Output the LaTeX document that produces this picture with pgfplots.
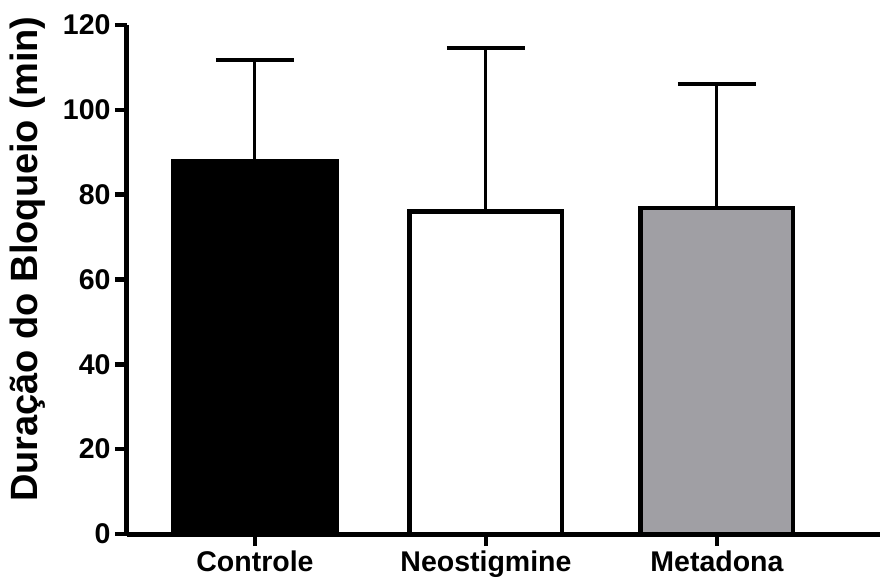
\documentclass[border=0pt]{standalone}
\usepackage{fontspec}
\setmainfont{Liberation Sans}
\usepackage{pgfplots}
\pgfplotsset{compat=1.18}
\definecolor{barGray}{RGB}{160,159,164}
\begin{document}
\begin{tikzpicture}
\begin{axis}[
  scale only axis,
  width=753pt, height=509pt,
  xmin=-0.554, xmax=2.706,
  ymin=0, ymax=120,
  axis x line*=bottom, axis y line*=left,
  axis line style={line width=5pt,-},
  xtick={0,1,2},
  xticklabels={Controle,Neostigmine,Metadona},
  ytick={0,20,40,60,80,100,120},
  tick align=outside,
  major tick length=12pt,
  tick style={line width=4.5pt, black},
  /pgf/number format/assume math mode=true,
  ticklabel style={font=\fontsize{28.5}{32}\selectfont\bfseries},
  xticklabel style={yshift=-1pt},
  yticklabel style={xshift=-1pt},
  ylabel={Duração do Bloqueio (min)},
  ylabel style={font=\fontsize{38}{42}\selectfont\bfseries, at={(axis description cs:-0.1315,0.54)}, anchor=center, rotate=0},
  clip=false,
]
\coordinate (bl) at (rel axis cs:0,0);
\addplot[ybar, bar shift=0pt, bar width=0.72, fill=black, draw=black, line width=2pt,
  error bars/.cd, y dir=plus, y explicit,
  error bar style={line width=3pt, black},
  error mark options={rotate=90, mark size=39pt, line width=4pt, black}]
  coordinates {(0,88.2) +- (0,23.6)};
\addplot[ybar, bar shift=0pt, bar width=0.66, fill=white, draw=black, line width=4.5pt,
  error bars/.cd, y dir=plus, y explicit,
  error bar style={line width=3pt, black},
  error mark options={rotate=90, mark size=39pt, line width=4pt, black}]
  coordinates {(1,76.0) +- (0,38.6)};
\addplot[ybar, bar shift=0pt, bar width=0.66, fill=barGray, draw=black, line width=4.5pt,
  error bars/.cd, y dir=plus, y explicit,
  error bar style={line width=3pt, black},
  error mark options={rotate=90, mark size=39pt, line width=4pt, black}]
  coordinates {(2,76.8) +- (0,29.2)};
\end{axis}
\pgfresetboundingbox
\path (bl) ++(-127pt,-44pt) rectangle ++(882pt,578pt);
\end{tikzpicture}
\end{document}
